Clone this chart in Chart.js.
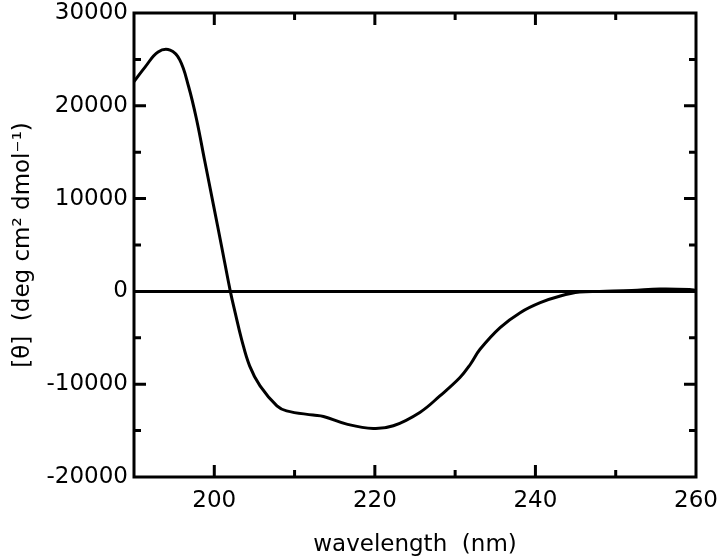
<!DOCTYPE html>
<html lang="en">
<head>
    <meta charset="UTF-8">
    <title>CD spectrum</title>
    <script src="https://cdn.jsdelivr.net/npm/chart.js"></script>
    <style>
        body { margin: 0; padding: 0; background: #fff; }
        #wrap { width: 720px; height: 560px; }
    </style>
</head>
<body>
    <div id="wrap"><canvas id="cdChart"></canvas></div>
    <script>
        // wavelength (nm) and mean residue ellipticity
        const wavelength = [190, 191.4, 193, 194.5, 195.7, 196.8, 197.8, 198.8, 199.9, 200.9, 202.0, 202.6, 203.4, 204.4, 205.7, 207.8, 209.0, 212.3, 213.6, 216.5, 219.8, 222.3, 225.6, 228.1, 230.6, 231.9, 233.1, 235.6, 238.1, 240.6, 243.1, 245.5, 248, 252, 255.5, 259.2, 260];
        const ellipticity = [22600, 24200, 25800, 26000, 24950, 22080, 18500, 14100, 9300, 4900, 0, -2290, -5160, -8030, -10180, -12330, -12870, -13330, -13480, -14300, -14770, -14480, -13040, -11260, -9280, -7850, -6240, -3900, -2290, -1215, -500, -75, 0, 100, 250, 200, 100];

        const xRange = [190, 260];
        const yRange = [-20000, 30000];
        const xLabelStep = 20;
        const yLabelStep = 10000;

        const font = { family: '"DejaVu Sans", Verdana, sans-serif', size: 23 };

        // ticks pointing into the plot on all four sides, plus the frame
        const innerTicks = {
            id: 'innerTicks',
            afterDatasetsDraw(chart) {
                const { ctx, chartArea: a, scales: { x, y } } = chart;
                ctx.save();
                ctx.strokeStyle = '#000';
                ctx.lineWidth = 3;
                ctx.beginPath();
                x.ticks.forEach(t => {
                    if (t.value <= x.min || t.value >= x.max) return;
                    const px = x.getPixelForValue(t.value);
                    const len = t.value % xLabelStep === 0 ? 12 : 7;
                    ctx.moveTo(px, a.bottom); ctx.lineTo(px, a.bottom - len);
                    ctx.moveTo(px, a.top); ctx.lineTo(px, a.top + len);
                });
                y.ticks.forEach(t => {
                    if (t.value <= y.min || t.value >= y.max) return;
                    const py = y.getPixelForValue(t.value);
                    const len = t.value % yLabelStep === 0 ? 12 : 7;
                    ctx.moveTo(a.left, py); ctx.lineTo(a.left + len, py);
                    ctx.moveTo(a.right, py); ctx.lineTo(a.right - len, py);
                });
                ctx.stroke();
                ctx.strokeRect(a.left, a.top, a.right - a.left, a.bottom - a.top);
                ctx.restore();
            }
        };

        new Chart(document.getElementById('cdChart'), {
            type: 'line',
            data: {
                datasets: [{
                    data: wavelength.map((w, i) => ({ x: w, y: ellipticity[i] })),
                    borderColor: '#000',
                    borderWidth: 3,
                    pointRadius: 0,
                    tension: 0.4,
                    fill: false
                }]
            },
            options: {
                responsive: true,
                maintainAspectRatio: false,
                animation: false,
                layout: { padding: { top: 13, right: 24, left: 0, bottom: 0 } },
                plugins: { legend: { display: false }, tooltip: { enabled: false } },
                scales: {
                    x: {
                        type: 'linear',
                        min: xRange[0],
                        max: xRange[1],
                        border: { display: false },
                        grid: { display: false, drawTicks: false },
                        ticks: {
                            stepSize: 10,
                            autoSkip: false,
                            maxRotation: 0,
                            padding: 10,
                            color: '#000',
                            font: font,
                            callback: v => v % xLabelStep === 0 ? v : ''
                        },
                        title: {
                            display: true,
                            text: 'wavelength  (nm)',
                            color: '#000',
                            font: font,
                            padding: { top: 0, bottom: 1 }
                        },
                        afterFit: s => { s.height = 83; s.paddingLeft = 0; s.paddingRight = 0; }
                    },
                    y: {
                        min: yRange[0],
                        max: yRange[1],
                        border: { display: false },
                        grid: {
                            drawTicks: false,
                            lineWidth: 3,
                            color: c => c.tick && c.tick.value === 0 ? '#000' : 'rgba(0,0,0,0)'
                        },
                        ticks: {
                            stepSize: 5000,
                            autoSkip: false,
                            padding: 6,
                            color: '#000',
                            font: font,
                            callback: v => v % yLabelStep === 0 ? v : ''
                        },
                        title: {
                            display: true,
                            text: '[\u03b8]  (deg cm\u00b2 dmol\u207b\u00b9)',
                            color: '#000',
                            font: font,
                            padding: { top: 9, bottom: 0 }
                        },
                        afterFit: s => { s.width = 134; s.paddingTop = 0; s.paddingBottom = 0; }
                    }
                }
            },
            plugins: [innerTicks]
        });
    </script>
</body>
</html>
